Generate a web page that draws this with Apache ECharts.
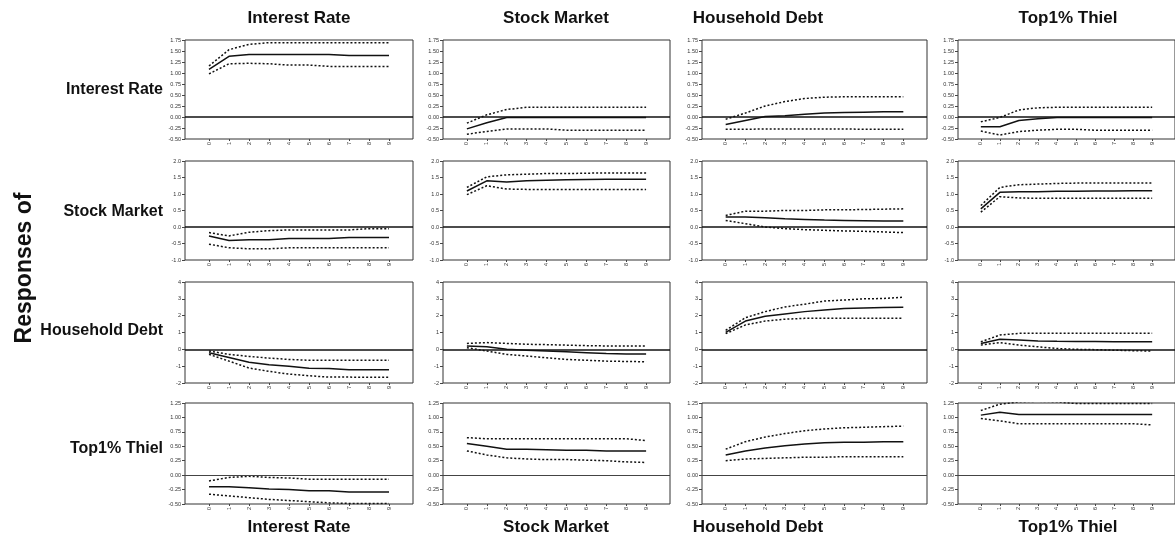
<!DOCTYPE html>
<html>
<head>
<meta charset="utf-8">
<title>Impulse responses</title>
<script src="https://cdn.jsdelivr.net/npm/echarts@6/dist/echarts.min.js"></script>
<style>
  html, body { margin: 0; padding: 0; background: #fff; }
  #chart { width: 1175px; height: 536px; }
</style>
</head>
<body>
<div id="chart"></div>
<script>
// Periods after the shock
const horizons = [0, 1, 2, 3, 4, 5, 6, 7, 8, 9];
// Shock (columns) and responding variable (rows)
const variables = ['Interest Rate', 'Stock Market', 'Household Debt', 'Top1% Thiel'];

// Y-axis scales, one per row
const rowMin = [-0.5, -1.0, -2, -0.5];
const rowMax = [1.75, 2.0, 4, 1.25];
const rowStep = [0.25, 0.5, 1, 0.25];
const rowDecimals = [2, 1, 0, 2];

// Responses of Interest Rate
const ir_ir = [1.08, 1.38, 1.42, 1.42, 1.42, 1.42, 1.42, 1.40, 1.40, 1.40];
const ir_ir_hi = [1.16, 1.53, 1.65, 1.69, 1.69, 1.69, 1.69, 1.69, 1.69, 1.69];
const ir_ir_lo = [0.98, 1.21, 1.22, 1.21, 1.18, 1.18, 1.15, 1.15, 1.15, 1.15];
const ir_sm = [-0.27, -0.13, -0.01, -0.01, -0.01, -0.01, -0.01, -0.01, -0.01, -0.01];
const ir_sm_hi = [-0.14, 0.05, 0.17, 0.22, 0.22, 0.22, 0.22, 0.22, 0.22, 0.22];
const ir_sm_lo = [-0.39, -0.33, -0.27, -0.27, -0.27, -0.30, -0.30, -0.30, -0.30, -0.30];
const ir_hd = [-0.17, -0.08, 0.01, 0.03, 0.06, 0.09, 0.10, 0.11, 0.12, 0.12];
const ir_hd_hi = [-0.05, 0.09, 0.25, 0.35, 0.42, 0.45, 0.46, 0.46, 0.46, 0.46];
const ir_hd_lo = [-0.28, -0.28, -0.27, -0.27, -0.27, -0.27, -0.27, -0.28, -0.28, -0.28];
const ir_th = [-0.22, -0.22, -0.08, -0.04, -0.01, -0.01, -0.01, -0.01, -0.01, -0.01];
const ir_th_hi = [-0.11, -0.01, 0.16, 0.21, 0.22, 0.22, 0.22, 0.22, 0.22, 0.22];
const ir_th_lo = [-0.32, -0.41, -0.33, -0.30, -0.28, -0.28, -0.30, -0.30, -0.30, -0.30];

// Responses of Stock Market
const sm_ir = [-0.27, -0.41, -0.39, -0.39, -0.35, -0.35, -0.35, -0.32, -0.32, -0.32];
const sm_ir_hi = [-0.17, -0.27, -0.16, -0.11, -0.09, -0.09, -0.09, -0.09, -0.05, -0.05];
const sm_ir_lo = [-0.52, -0.63, -0.66, -0.66, -0.63, -0.63, -0.63, -0.63, -0.63, -0.63];
const sm_sm = [1.09, 1.40, 1.36, 1.40, 1.42, 1.43, 1.44, 1.45, 1.45, 1.45];
const sm_sm_hi = [1.20, 1.52, 1.58, 1.60, 1.62, 1.62, 1.63, 1.64, 1.64, 1.64];
const sm_sm_lo = [0.98, 1.25, 1.15, 1.14, 1.14, 1.14, 1.14, 1.14, 1.14, 1.14];
const sm_hd = [0.30, 0.30, 0.28, 0.25, 0.23, 0.21, 0.20, 0.19, 0.18, 0.18];
const sm_hd_hi = [0.35, 0.48, 0.48, 0.50, 0.50, 0.52, 0.52, 0.53, 0.54, 0.55];
const sm_hd_lo = [0.20, 0.10, 0.00, -0.05, -0.08, -0.10, -0.12, -0.13, -0.15, -0.17];
const sm_th = [0.55, 1.05, 1.07, 1.07, 1.08, 1.08, 1.09, 1.09, 1.10, 1.10];
const sm_th_hi = [0.65, 1.20, 1.28, 1.30, 1.32, 1.33, 1.33, 1.33, 1.33, 1.33];
const sm_th_lo = [0.45, 0.92, 0.88, 0.87, 0.87, 0.87, 0.87, 0.87, 0.87, 0.87];

// Responses of Household Debt
const hd_ir = [-0.20, -0.48, -0.77, -0.91, -1.00, -1.13, -1.14, -1.21, -1.21, -1.21];
const hd_ir_hi = [-0.10, -0.30, -0.42, -0.52, -0.60, -0.65, -0.65, -0.65, -0.65, -0.65];
const hd_ir_lo = [-0.30, -0.70, -1.11, -1.31, -1.47, -1.57, -1.65, -1.65, -1.66, -1.66];
const hd_sm = [0.20, 0.15, 0.00, -0.05, -0.10, -0.15, -0.20, -0.25, -0.27, -0.28];
const hd_sm_hi = [0.35, 0.40, 0.35, 0.30, 0.28, 0.25, 0.22, 0.20, 0.20, 0.20];
const hd_sm_lo = [0.10, -0.10, -0.30, -0.40, -0.50, -0.60, -0.65, -0.70, -0.72, -0.74];
const hd_hd = [1.01, 1.68, 1.96, 2.10, 2.24, 2.34, 2.42, 2.45, 2.48, 2.50];
const hd_hd_hi = [1.13, 1.88, 2.24, 2.52, 2.68, 2.87, 2.93, 3.00, 3.02, 3.10];
const hd_hd_lo = [0.93, 1.45, 1.68, 1.79, 1.84, 1.84, 1.84, 1.84, 1.84, 1.84];
const hd_th = [0.35, 0.60, 0.55, 0.50, 0.48, 0.47, 0.46, 0.45, 0.45, 0.45];
const hd_th_hi = [0.45, 0.85, 0.95, 0.95, 0.95, 0.95, 0.95, 0.95, 0.95, 0.95];
const hd_th_lo = [0.25, 0.40, 0.25, 0.15, 0.05, 0.00, -0.02, -0.05, -0.08, -0.10];

// Responses of Top1% Thiel
const th_ir = [-0.20, -0.20, -0.22, -0.24, -0.25, -0.27, -0.27, -0.29, -0.29, -0.29];
const th_ir_hi = [-0.10, -0.04, -0.02, -0.04, -0.05, -0.07, -0.07, -0.07, -0.07, -0.07];
const th_ir_lo = [-0.33, -0.36, -0.39, -0.42, -0.44, -0.46, -0.48, -0.49, -0.49, -0.49];
const th_sm = [0.55, 0.50, 0.45, 0.45, 0.44, 0.43, 0.43, 0.42, 0.42, 0.42];
const th_sm_hi = [0.65, 0.63, 0.63, 0.63, 0.63, 0.63, 0.63, 0.63, 0.63, 0.60];
const th_sm_lo = [0.42, 0.35, 0.30, 0.28, 0.27, 0.27, 0.26, 0.25, 0.23, 0.22];
const th_hd = [0.35, 0.42, 0.47, 0.51, 0.54, 0.56, 0.57, 0.57, 0.58, 0.58];
const th_hd_hi = [0.45, 0.58, 0.66, 0.72, 0.77, 0.80, 0.82, 0.83, 0.84, 0.85];
const th_hd_lo = [0.25, 0.28, 0.29, 0.30, 0.31, 0.31, 0.32, 0.32, 0.32, 0.32];
const th_th = [1.04, 1.09, 1.05, 1.05, 1.05, 1.05, 1.05, 1.05, 1.05, 1.05];
const th_th_hi = [1.12, 1.23, 1.27, 1.28, 1.27, 1.24, 1.24, 1.24, 1.24, 1.24];
const th_th_lo = [0.98, 0.94, 0.89, 0.89, 0.89, 0.89, 0.89, 0.89, 0.89, 0.87];

// Panel table: [row][col] -> [response, upper band, lower band]
const panels = [
  [[ir_ir, ir_ir_hi, ir_ir_lo], [ir_sm, ir_sm_hi, ir_sm_lo], [ir_hd, ir_hd_hi, ir_hd_lo], [ir_th, ir_th_hi, ir_th_lo]],
  [[sm_ir, sm_ir_hi, sm_ir_lo], [sm_sm, sm_sm_hi, sm_sm_lo], [sm_hd, sm_hd_hi, sm_hd_lo], [sm_th, sm_th_hi, sm_th_lo]],
  [[hd_ir, hd_ir_hi, hd_ir_lo], [hd_sm, hd_sm_hi, hd_sm_lo], [hd_hd, hd_hd_hi, hd_hd_lo], [hd_th, hd_th_hi, hd_th_lo]],
  [[th_ir, th_ir_hi, th_ir_lo], [th_sm, th_sm_hi, th_sm_lo], [th_hd, th_hd_hi, th_hd_lo], [th_th, th_th_hi, th_th_lo]]
];

// Panel placement in pixels
const colLeft = [185, 443, 702, 958];
const colWidth = [228, 227, 225, 225];
const rowTop = [40, 161, 282, 403];
const rowHeight = [99, 99, 101, 101];

const FONT = 'Liberation Sans, Arial, sans-serif';
const grid = [], xAxis = [], yAxis = [], series = [];

const pairs = (arr) => horizons.map((h, i) => [h, arr[i]]);

for (let r = 0; r < 4; r++) {
  for (let c = 0; c < 4; c++) {
    const k = r * 4 + c;
    grid.push({
      left: colLeft[c], top: rowTop[r], width: colWidth[c], height: rowHeight[r],
      show: true, borderColor: '#333', borderWidth: 1, backgroundColor: 'transparent'
    });
    xAxis.push({
      type: 'value', gridIndex: k, min: -1.2, max: 10.2, position: 'bottom',
      axisLine: { show: false, onZero: false },
      splitLine: { show: false },
      axisTick: { show: true, customValues: horizons, length: 2, inside: false, lineStyle: { color: '#444' } },
      axisLabel: {
        customValues: horizons, rotate: 90, fontSize: 5.5, color: '#333',
        fontFamily: FONT, margin: 3
      }
    });
    yAxis.push({
      type: 'value', gridIndex: k, min: rowMin[r], max: rowMax[r], interval: rowStep[r], position: 'left',
      axisLine: { show: false, onZero: false },
      splitLine: { show: false },
      axisTick: { show: true, length: 3, lineStyle: { color: '#444' } },
      axisLabel: {
        fontSize: 5.5, color: '#333', fontFamily: FONT, margin: 4,
        formatter: (v) => v.toFixed(rowDecimals[r])
      }
    });
    const [mid, hi, lo] = panels[r][c];
    series.push({
      type: 'line', xAxisIndex: k, yAxisIndex: k, data: pairs(mid),
      symbol: 'none', silent: true, clip: true,
      lineStyle: { color: '#111', width: 1.5, type: 'solid' },
      markLine: {
        silent: true, symbol: ['none', 'none'], label: { show: false },
        lineStyle: { color: r === 3 ? '#444' : '#111', width: r === 3 ? 1 : 1.5, type: 'solid' },
        data: [{ yAxis: 0 }]
      }
    });
    [hi, lo].forEach((band) => {
      series.push({
        type: 'line', xAxisIndex: k, yAxisIndex: k, data: pairs(band),
        symbol: 'none', silent: true, clip: true,
        lineStyle: { color: '#111', width: 1.5, type: [2, 2] }
      });
    });
  }
}

// Shock titles above and below the columns, row labels, side title
const graphic = [];
const colCenter = [299, 556, 758, 1068];
for (let c = 0; c < 4; c++) {
  [18, 527].forEach((y) => {
    graphic.push({
      type: 'text', x: colCenter[c], y: y,
      style: { text: variables[c], font: 'bold 17px ' + FONT, fill: '#111', align: 'center', verticalAlign: 'middle' }
    });
  });
}
const rowCenter = [90, 212, 331, 449];
for (let r = 0; r < 4; r++) {
  graphic.push({
    type: 'text', x: 163, y: rowCenter[r],
    style: { text: variables[r], font: 'bold 16px ' + FONT, fill: '#111', align: 'right', verticalAlign: 'middle' }
  });
}
graphic.push({
  type: 'text', x: 25, y: 268, rotation: Math.PI / 2,
  style: { text: 'Responses of', font: 'bold 23px ' + FONT, fill: '#111', align: 'center', verticalAlign: 'middle' }
});

const chart = echarts.init(document.getElementById('chart'), null, { renderer: 'canvas' });
chart.setOption({
  animation: false,
  backgroundColor: '#fff',
  grid, xAxis, yAxis, series, graphic
});
</script>
</body>
</html>
